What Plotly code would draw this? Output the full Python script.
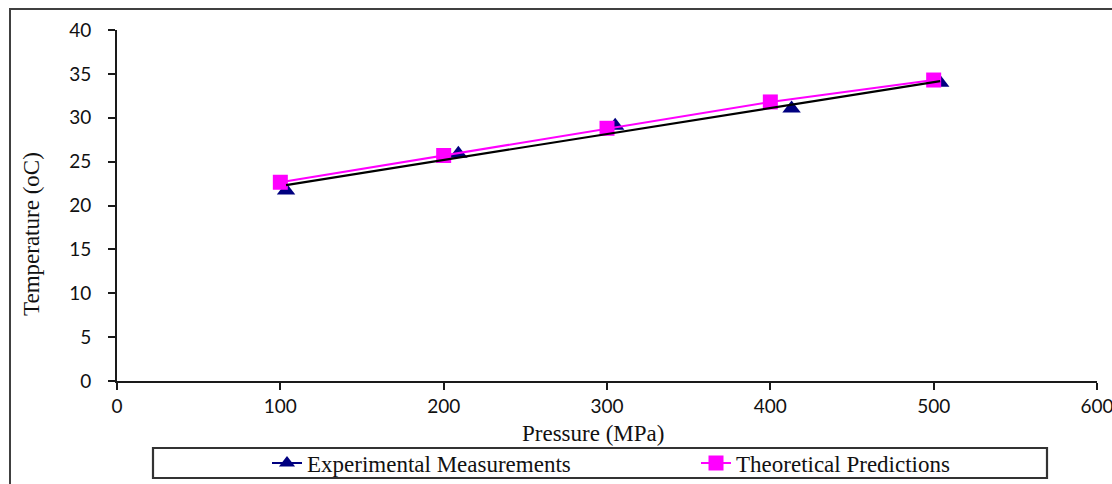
import numpy as np
import plotly.graph_objects as go

# Data
exp_pressure = [103.5, 209, 305, 413, 504]
exp_temperature = [21.7, 25.9, 29.1, 31.05, 34.0]
theo_pressure = [100, 200, 300, 400, 500]
theo_temperature = [22.65, 25.7, 28.8, 31.8, 34.3]
x_ticks = [0, 100, 200, 300, 400, 500, 600]
y_ticks = [0, 5, 10, 15, 20, 25, 30, 35, 40]

# Linear trend line of the experimental data
slope, intercept = np.polyfit(exp_pressure, exp_temperature, 1)
trend_x = [exp_pressure[0], exp_pressure[-1]]
trend_y = [slope * v + intercept for v in trend_x]

W, H = 1112, 484
L, R, T, B = 117, 1097, 30, 381
pw, ph = R - L, B - T


def px(xp):
    return (xp - L) / pw


def py(yp):
    return (B - yp) / ph


NAVY = "#000080"
MAGENTA = "#FF00FF"
SERIF = "Liberation Serif"

fig = go.Figure()

fig.add_trace(go.Scatter(
    x=exp_pressure, y=exp_temperature, mode="markers",
    marker=dict(symbol="triangle-up", size=16, color=NAVY),
    showlegend=False, name="Experimental Measurements"))

fig.add_trace(go.Scatter(
    x=theo_pressure, y=theo_temperature, mode="lines+markers",
    line=dict(color=MAGENTA, width=2),
    marker=dict(symbol="square", size=15, color=MAGENTA),
    name="Theoretical Predictions", legend="legend2"))

fig.add_trace(go.Scatter(
    x=trend_x, y=trend_y, mode="lines",
    line=dict(color="black", width=2.2),
    showlegend=False, hoverinfo="skip"))

# legend-only entry for the experimental series (line + marker)
fig.add_trace(go.Scatter(
    x=[None], y=[None], mode="lines+markers",
    line=dict(color=NAVY, width=2),
    marker=dict(symbol="triangle-up", size=14, color=NAVY),
    name="Experimental Measurements", legend="legend"))

axis_common = dict(
    showline=True, linecolor="#1a1a1a", linewidth=1.6,
    ticks="outside", ticklen=7, tickwidth=1.6, tickcolor="#1a1a1a",
    showgrid=False, zeroline=False, ticklabeloverflow="allow",
    tickfont=dict(family="Lato", size=19, color="#111"),
)

fig.update_xaxes(range=[0, 600], tickvals=x_ticks, **axis_common)
fig.update_yaxes(range=[0, 40], tickvals=y_ticks, ticklabelstandoff=13, **axis_common)

shapes = [
    # outer frame
    dict(type="rect", xref="paper", yref="paper",
         x0=px(10), x1=px(W + 20), y0=py(H + 20), y1=py(9),
         line=dict(color="#404040", width=2), fillcolor="rgba(0,0,0,0)"),
    # legend frame
    dict(type="rect", xref="paper", yref="paper",
         x0=px(153), x1=px(1047), y0=py(478), y1=py(448),
         line=dict(color="#333", width=2.2), fillcolor="rgba(0,0,0,0)"),
]

annotations = [
    dict(text="Pressure (MPa)", xref="paper", yref="paper",
         x=px(593), y=py(433), xanchor="center", yanchor="middle",
         showarrow=False, font=dict(family=SERIF, size=23, color="#111")),
    dict(text="Temperature (oC)", xref="paper", yref="paper",
         x=px(32), y=py(234), xanchor="center", yanchor="middle",
         textangle=-90, showarrow=False,
         font=dict(family=SERIF, size=23, color="#111")),
]

legend_common = dict(
    orientation="h", yanchor="middle", xanchor="left",
    bgcolor="rgba(0,0,0,0)", borderwidth=0,
    font=dict(family=SERIF, size=23, color="#111"),
)

fig.update_layout(
    width=W, height=H,
    margin=dict(l=L, r=W - R, t=T, b=H - B, autoexpand=False),
    paper_bgcolor="white", plot_bgcolor="white",
    shapes=shapes, annotations=annotations,
    legend=dict(x=px(267), y=py(463), **legend_common),
    legend2=dict(x=px(696), y=py(463), **legend_common),
)

fig.write_html("out.html")
